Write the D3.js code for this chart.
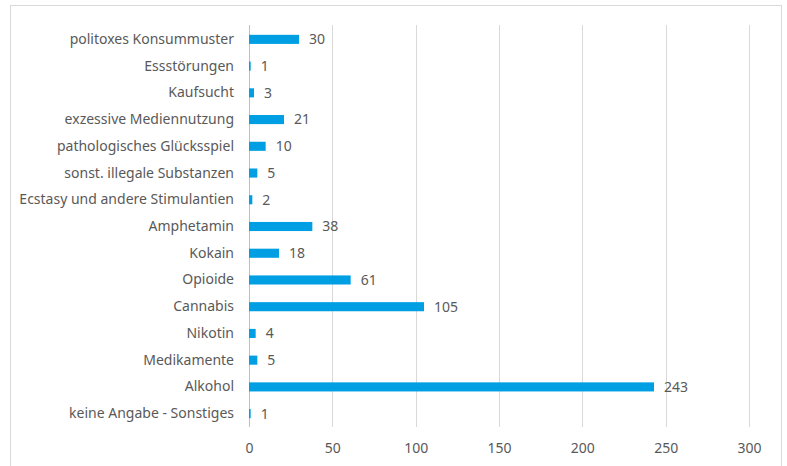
<!DOCTYPE html>
<html>
<head>
<meta charset="utf-8">
<script src="https://cdn.jsdelivr.net/npm/d3@7"></script>
<style>
  body { margin: 0; background: #fff; }
  svg { display: block; }
  text { font-family: "Noto Sans", "Open Sans", sans-serif; fill: #595959; }
</style>
</head>
<body>
<div id="chart"><svg></svg></div>
<script>
// categories top to bottom
var categories = ["politoxes Konsummuster", "Essstörungen", "Kaufsucht", "exzessive Mediennutzung",
    "pathologisches Glücksspiel", "sonst. illegale Substanzen", "Ecstasy und andere Stimulantien",
    "Amphetamin", "Kokain", "Opioide", "Cannabis", "Nikotin", "Medikamente", "Alkohol",
    "keine Angabe - Sonstiges"];
var values = [30, 1, 3, 21, 10, 5, 2, 38, 18, 61, 105, 4, 5, 243, 1];
var ticks = [0, 50, 100, 150, 200, 250, 300];

var W = 787, H = 466,
    margin = { top: 26, right: 38, bottom: 39, left: 249 },
    width = W - margin.left - margin.right,
    height = H - margin.top - margin.bottom;

var svg = d3.select('#chart svg').attr('width', W).attr('height', H);

// chart frame
svg.append('rect')
    .attr('x', 10.5).attr('y', 5.5)
    .attr('width', 771).attr('height', 470)
    .attr('fill', 'none').attr('stroke', '#d9d9d9');

var g = svg.append('g').attr('transform', 'translate(' + margin.left + ',' + margin.top + ')');

var x = d3.scaleLinear().domain([0, 300]).range([0, width]);
var y = d3.scaleBand().domain(categories).range([0, height]).paddingInner(0.66).paddingOuter(0.33);

// gridlines
g.selectAll('.grid')
    .data(ticks)
    .enter().append('line')
    .attr('class', 'grid')
    .attr('x1', d => Math.round(x(d)) + 0.5).attr('x2', d => Math.round(x(d)) + 0.5)
    .attr('y1', -1).attr('y2', height)
    .attr('stroke', d => d === 0 ? '#bfbfbf' : '#d9d9d9');

// x axis labels
var xAxis = g.append('g')
    .attr('transform', 'translate(0,' + height + ')')
    .call(d3.axisBottom(x).tickValues(ticks).tickSize(0).tickPadding(16));
xAxis.select('.domain').remove();
xAxis.selectAll('text').style('font-size', '14px').attr('fill', '#595959');

// y axis labels
var yAxis = g.append('g')
    .call(d3.axisLeft(y).tickSize(0).tickPadding(15));
yAxis.select('.domain').remove();
yAxis.selectAll('text').style('font-size', '14px').attr('fill', '#595959');

// bars
g.selectAll('.bar')
    .data(values)
    .enter().append('rect')
    .attr('class', 'bar')
    .attr('x', x(0))
    .attr('y', (d, i) => y(categories[i]))
    .attr('width', d => x(d) - x(0))
    .attr('height', y.bandwidth())
    .attr('fill', '#009fe3');

// value labels
g.selectAll('.val')
    .data(values)
    .enter().append('text')
    .attr('class', 'val')
    .attr('x', d => x(d) + 10)
    .attr('y', (d, i) => y(categories[i]) + y.bandwidth() / 2)
    .attr('dy', '0.35em')
    .style('font-size', '14px')
    .text(d => d);
</script>
</body>
</html>
